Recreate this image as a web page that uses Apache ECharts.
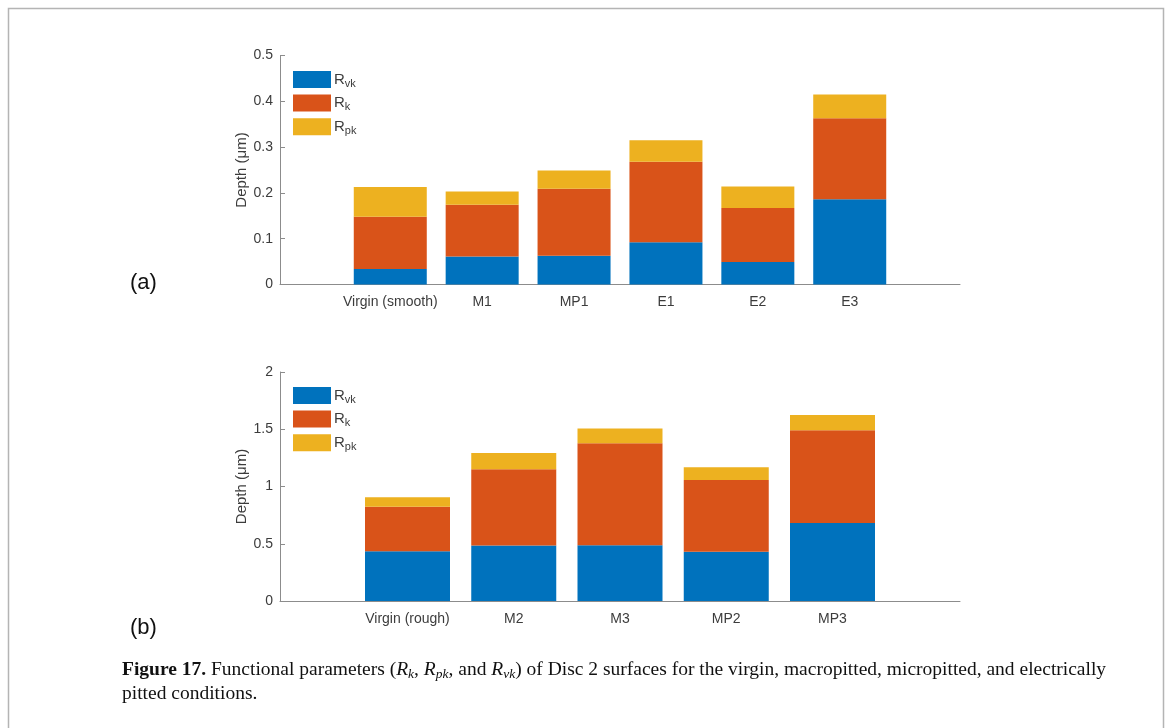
<!DOCTYPE html>
<html>
<head>
<meta charset="utf-8">
<script src="https://cdn.jsdelivr.net/npm/echarts@6/dist/echarts.min.js"></script>
<style>
  html, body { margin: 0; padding: 0; background: #fff; }
  #canvas { width: 1168px; height: 728px; }
</style>
</head>
<body>
<div id="canvas"></div>
<script>
// (a) Disc 2, smooth set
var topCats = ['Virgin (smooth)', 'M1', 'MP1', 'E1', 'E2', 'E3'];
var topRvk = [0.034, 0.061, 0.063, 0.092, 0.049, 0.186];
var topRk  = [0.114, 0.113, 0.146, 0.176, 0.118, 0.177];
var topRpk = [0.065, 0.029, 0.040, 0.047, 0.047, 0.052];
var topTicks = [0, 0.1, 0.2, 0.3, 0.4, 0.5];

// (b) Disc 2, rough set
var botCats = ['Virgin (rough)', 'M2', 'M3', 'MP2', 'MP3'];
var botRvk = [0.434, 0.484, 0.486, 0.431, 0.682];
var botRk  = [0.390, 0.666, 0.892, 0.626, 0.809];
var botRpk = [0.082, 0.143, 0.128, 0.111, 0.133];
var botTicks = [0, 0.5, 1, 1.5, 2];

var seriesNames = ['Rvk', 'Rk', 'Rpk'];
var colors = ['#0072BD', '#D95319', '#EDB120'];

// matlab-like x limits [-0.2, n+1.2], slots every 0.2 so bars sit on integers
var slotIndex = function(i) { return 5 * (i + 1) + 1; };
var slotCount = function(n) { return 5 * n + 8; };

var padCats = function(cats) {
    var out = [];
    for (var k = 0; k < slotCount(cats.length); k++) out.push('');
    for (var i = 0; i < cats.length; i++) out[slotIndex(i)] = cats[i];
    return out;
};
var padVals = function(vals) {
    var out = [];
    for (var k = 0; k < slotCount(vals.length); k++) out.push(null);
    for (var i = 0; i < vals.length; i++) out[slotIndex(i)] = vals[i];
    return out;
};

var axisGrey = '#8c8c8c';
var labelGrey = '#3c3c3c';
var sansFont = 'Liberation Sans';

var makeXAxis = function(cats, gridIndex) {
    var padded = padCats(cats);
    return {
        type: 'category',
        gridIndex: gridIndex,
        data: padded,
        boundaryGap: false,
        axisLine: { lineStyle: { color: axisGrey, width: 1 } },
        axisTick: {
            inside: true, length: 5,
            lineStyle: { color: axisGrey },
            interval: function(idx) { return padded[idx] !== ''; }
        },
        axisLabel: {
            interval: 0, margin: 11,
            color: labelGrey, fontFamily: sansFont, fontSize: 14
        },
        splitLine: { show: false }
    };
};

var makeYAxis = function(ticks, gridIndex) {
    return {
        type: 'value',
        gridIndex: gridIndex,
        min: ticks[0],
        max: ticks[ticks.length - 1],
        interval: ticks[1] - ticks[0],
        name: 'Depth (μm)',
        nameLocation: 'middle',
        nameGap: 31,
        nameMoveOverlap: false,
        nameTextStyle: { color: labelGrey, fontFamily: sansFont, fontSize: 15 },
        axisLine: { show: true, lineStyle: { color: axisGrey, width: 1 } },
        axisTick: { show: true, inside: true, length: 5, lineStyle: { color: axisGrey } },
        axisLabel: { margin: 7, color: labelGrey, fontFamily: sansFont, fontSize: 14 },
        splitLine: { show: false }
    };
};

var makeSeries = function(sets, idx, stack, width) {
    var out = [];
    for (var s = 0; s < sets.length; s++) {
        out.push({
            name: seriesNames[s],
            type: 'bar',
            xAxisIndex: idx,
            yAxisIndex: idx,
            stack: stack,
            barWidth: width,
            data: padVals(sets[s]),
            itemStyle: { color: colors[s] },
            emphasis: { disabled: true },
            animation: false
        });
    }
    return out;
};

var makeLegend = function(top) {
    return {
        orient: 'vertical',
        left: 293,
        top: top,
        itemWidth: 38,
        itemHeight: 17,
        itemGap: 4.6,
        padding: 0,
        icon: 'rect',
        selectedMode: false,
        data: seriesNames,
        formatter: function(name) { return '{r|R}{s|' + name.slice(1) + '}'; },
        textStyle: {
            padding: [0, 0, 0, -2],
            lineHeight: 17,
            rich: {
                r: { fontSize: 15, fontFamily: sansFont, color: labelGrey, lineHeight: 17 },
                s: { fontSize: 11, fontFamily: sansFont, color: labelGrey, lineHeight: 9, padding: [8, 0, 0, 0] }
            }
        }
    };
};

var myChart = echarts.init(document.getElementById('canvas'));
var option = {
    backgroundColor: '#fff',
    animation: false,
    grid: [
        { left: 280, top: 55.5, width: 680, height: 229 },
        { left: 280, top: 372, width: 680, height: 229 }
    ],
    xAxis: [makeXAxis(topCats, 0), makeXAxis(botCats, 1)],
    yAxis: [makeYAxis(topTicks, 0), makeYAxis(botTicks, 1)],
    legend: [makeLegend(70), makeLegend(386)],
    series: makeSeries([topRvk, topRk, topRpk], 0, 'a', 73)
        .concat(makeSeries([botRvk, botRk, botRpk], 1, 'b', 85)),
    graphic: [
        {
            type: 'rect',
            shape: { x: 8.5, y: 8.5, width: 1155, height: 740 },
            style: { fill: 'none', stroke: '#b4b4b4', lineWidth: 1.5 },
            silent: true
        },
        {
            type: 'text', left: 130, top: 272,
            style: { text: '(a)', font: '22px "Liberation Sans"', fill: '#111' }
        },
        {
            type: 'text', left: 130, top: 617,
            style: { text: '(b)', font: '22px "Liberation Sans"', fill: '#111' }
        },
        {
            type: 'text', left: 122, top: 658,
            style: {
                text: '{b|Figure 17.} Functional parameters ({i|R}{si|k}, {i|R}{si|pk}, and {i|R}{si|vk}) of Disc 2 surfaces for the virgin, macropitted, micropitted, and electrically\npitted conditions.',
                font: '19.5px "Liberation Serif"',
                fill: '#111',
                lineHeight: 24,
                rich: {
                    b: { fontWeight: 'bold', fontSize: 19.5, fontFamily: 'Liberation Serif', lineHeight: 24 },
                    i: { fontStyle: 'italic', fontSize: 19.5, fontFamily: 'Liberation Serif', lineHeight: 24 },
                    si: { fontStyle: 'italic', fontSize: 13.5, fontFamily: 'Liberation Serif', lineHeight: 24, padding: [9, 0, 0, 0] }
                }
            }
        }
    ]
};
myChart.setOption(option);
</script>
</body>
</html>
